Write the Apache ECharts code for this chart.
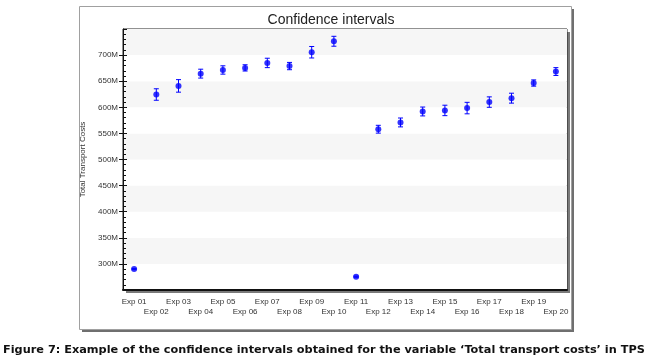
<!DOCTYPE html>
<html>
<head>
<meta charset="utf-8">
<script src="https://cdn.jsdelivr.net/npm/echarts@6/dist/echarts.min.js"></script>
<style>
  html, body { margin: 0; padding: 0; background: #fff; }
  #chart { width: 655px; height: 364px; }
</style>
</head>
<body>
<div id="chart"></div>
<script>
// experiment labels
const categories = ['Exp 01', 'Exp 02', 'Exp 03', 'Exp 04', 'Exp 05', 'Exp 06', 'Exp 07', 'Exp 08', 'Exp 09', 'Exp 10',
  'Exp 11', 'Exp 12', 'Exp 13', 'Exp 14', 'Exp 15', 'Exp 16', 'Exp 17', 'Exp 18', 'Exp 19', 'Exp 20'];
// mean total transport cost (millions)
const means = [290, 624.5, 641, 664.5, 671.5, 675.5, 685, 679, 705.5, 726.5,
  275.5, 558, 571, 592, 594, 598.5, 610, 617.5, 646.5, 668.5];
// lower / upper bounds of the confidence interval (millions)
const lower = [289, 613.5, 629, 656, 663.5, 669.5, 676, 672, 694.5, 717,
  274.5, 550.5, 562.5, 583.5, 584, 587.5, 600, 608, 640.5, 661];
const upper = [291, 635.5, 653, 673, 679.5, 681.5, 694, 686, 716.5, 736,
  276.5, 565.5, 579.5, 600.5, 604, 609.5, 620, 627, 652.5, 676];
// y axis range and step (millions)
const yMin = 250;
const yMax = 750;
const yStep = 50;

const chart = echarts.init(document.getElementById('chart'));
const labelFont = 'Liberation Sans, Arial, sans-serif';

const intervalData = categories.map((c, i) => [i, lower[i], upper[i]]);
const pointData = categories.map((c, i) => [i, means[i]]);

// plot box (matches grid below)
const gl = 123, gt = 29, gw = 655 - 123 - 88, gh = 364 - 29 - 74;

chart.setOption({
  animation: false,
  backgroundColor: '#ffffff',
  title: {
    text: 'Confidence intervals',
    left: 326,
    textAlign: 'center',
    top: 8,
    textStyle: { fontFamily: labelFont, fontSize: 14, fontWeight: 'normal', color: '#222' }
  },
  graphic: [
    // outer frame shadow + frame
    { type: 'rect', z: -20, silent: true, shape: { x: 82, y: 9, width: 492, height: 323 }, style: { fill: '#6f6f6f' } },
    { type: 'rect', z: -19, silent: true, shape: { x: 79.5, y: 6.5, width: 492, height: 323 }, style: { fill: '#ffffff', stroke: '#a0a0a0', lineWidth: 1 } },
    // plot shadow
    { type: 'rect', z: -18, silent: true, shape: { x: gl + 3, y: gt + 3, width: gw, height: gh }, style: { fill: '#7a7a7a' } },
    {
      type: 'text',
      left: 3,
      top: 345,
      style: {
        text: 'Figure 7: Example of the confidence intervals obtained for the variable \u2018Total transport costs\u2019 in TPS',
        fontFamily: 'DejaVu Sans, sans-serif',
        fontWeight: 'bold',
        fontSize: 11.3,
        fill: '#111'
      }
    }
  ],
  grid: {
    left: gl, right: 88, top: gt, bottom: 74,
    show: true,
    backgroundColor: '#ffffff',
    borderColor: '#222',
    borderWidth: 1
  },
  xAxis: [
    {
      type: 'category',
      data: categories,
      boundaryGap: true,
      position: 'bottom',
      axisLine: { lineStyle: { color: '#111', width: 2 } },
      axisTick: { alignWithLabel: true, length: 5, lineStyle: { color: '#111' } },
      axisLabel: {
        interval: 0,
        margin: 7,
        fontFamily: labelFont,
        fontSize: 8,
        lineHeight: 10,
        color: '#333',
        formatter: (v, i) => (i % 2 ? '\n' + v : v)
      },
      splitLine: { show: false }
    },
    {
      type: 'category',
      data: categories,
      boundaryGap: true,
      position: 'bottom',
      axisLine: { show: false },
      axisTick: { alignWithLabel: true, inside: true, length: 5, lineStyle: { color: '#111' } },
      axisLabel: { show: false },
      splitLine: { show: false }
    }
  ],
  yAxis: [
    {
      type: 'value',
      min: yMin,
      max: yMax,
      interval: yStep,
      position: 'left',
      name: 'Total Transport Costs',
      nameLocation: 'middle',
      nameGap: 32,
      nameTextStyle: { fontFamily: labelFont, fontSize: 8, color: '#333' },
      axisLine: { show: true, lineStyle: { color: '#111', width: 1 } },
      axisTick: { show: true, length: 4, lineStyle: { color: '#111' } },
      axisLabel: {
        margin: 5,
        fontFamily: labelFont,
        fontSize: 8,
        color: '#333',
        showMinLabel: false,
        showMaxLabel: false,
        formatter: (v) => v + 'M'
      },
      splitLine: { show: false },
      splitArea: { show: true, areaStyle: { color: ['#ffffff', '#f6f6f6'] } }
    },
    {
      type: 'value',
      min: yMin,
      max: yMax,
      interval: yStep,
      position: 'left',
      axisLine: { show: false },
      axisTick: { show: true, inside: true, length: 4, lineStyle: { color: '#111' } },
      minorTick: { show: true, splitNumber: 5, length: 3, lineStyle: { color: '#111' } },
      axisLabel: { show: false },
      splitLine: { show: false },
      splitArea: { show: false }
    }
  ],
  series: [
    {
      type: 'custom',
      name: 'interval',
      xAxisIndex: 0,
      yAxisIndex: 0,
      z: 3,
      data: intervalData,
      renderItem: function (params, api) {
        const x = api.value(0);
        const lo = api.coord([x, api.value(1)]);
        const hi = api.coord([x, api.value(2)]);
        const cap = 2.5;
        const style = { stroke: '#0000ff', lineWidth: 1 };
        return {
          type: 'group',
          children: [
            { type: 'line', shape: { x1: lo[0], y1: lo[1], x2: hi[0], y2: hi[1] }, style: style },
            { type: 'line', shape: { x1: lo[0] - cap, y1: lo[1], x2: lo[0] + cap, y2: lo[1] }, style: style },
            { type: 'line', shape: { x1: hi[0] - cap, y1: hi[1], x2: hi[0] + cap, y2: hi[1] }, style: style }
          ]
        };
      }
    },
    {
      type: 'scatter',
      name: 'mean',
      xAxisIndex: 0,
      yAxisIndex: 0,
      z: 4,
      symbol: 'circle',
      symbolSize: 6,
      itemStyle: { color: '#0000ff' },
      data: pointData
    }
  ]
});
</script>
</body>
</html>
